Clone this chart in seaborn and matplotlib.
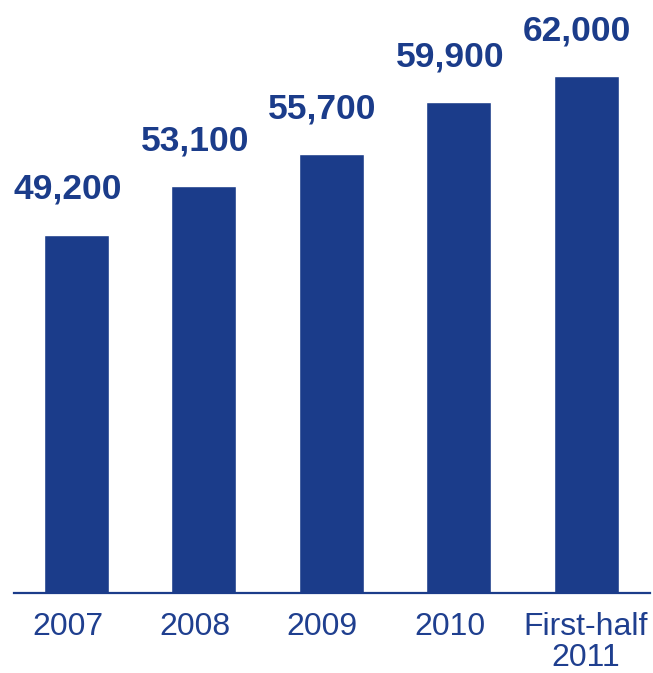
import matplotlib
matplotlib.use("Agg")
import matplotlib.pyplot as plt
import matplotlib.transforms as mtransforms
import seaborn as sns
import pandas as pd

categories = ["2007", "2008", "2009", "2010", "First-half\n2011"]
values = [49200, 53100, 55700, 59900, 62000]
value_labels = ["49,200", "53,100", "55,700", "59,900", "62,000"]

BAR = "#1B3C8A"
TXT = "#1F3F8F"

sns.set_theme(style="white")
plt.rcParams["font.family"] = ["Liberation Sans", "DejaVu Sans"]

df = pd.DataFrame({"cat": categories, "val": values})

fig = plt.figure(figsize=(6.53, 6.73), dpi=100)
W, H = 653, 673
ax = fig.add_axes([14 / W, (H - 593) / H, 636 / W, 593 / H])

sns.barplot(data=df, x="cat", y="val", color=BAR, saturation=1, width=0.51, ax=ax)

ax.set_xlim(-0.49, 4.5)
ax.set_ylim(20280, 68150)
ax.set_xlabel("")
ax.set_ylabel("")
ax.set_yticks([])
for s in ["top", "right", "left"]:
    ax.spines[s].set_visible(False)
ax.spines["bottom"].set_color(BAR)
ax.spines["bottom"].set_linewidth(1.6)
ax.tick_params(axis="x", length=0, pad=14, labelsize=23, labelcolor=TXT)

for lab in ax.get_xticklabels():
    lab.set_linespacing(1.02)
    dx = -9 if "First" not in lab.get_text() else -1
    lab.set_transform(lab.get_transform() + mtransforms.ScaledTranslation(dx / 100, 0, fig.dpi_scale_trans))

for i, (v, t) in enumerate(zip(values, value_labels)):
    ax.annotate(t, xy=(i, v), xytext=(-9, 36), textcoords="offset pixels",
                ha="center", va="baseline", fontsize=25.5, fontweight="bold",
                color=BAR, annotation_clip=False)

fig.savefig("out.png", dpi=100)
